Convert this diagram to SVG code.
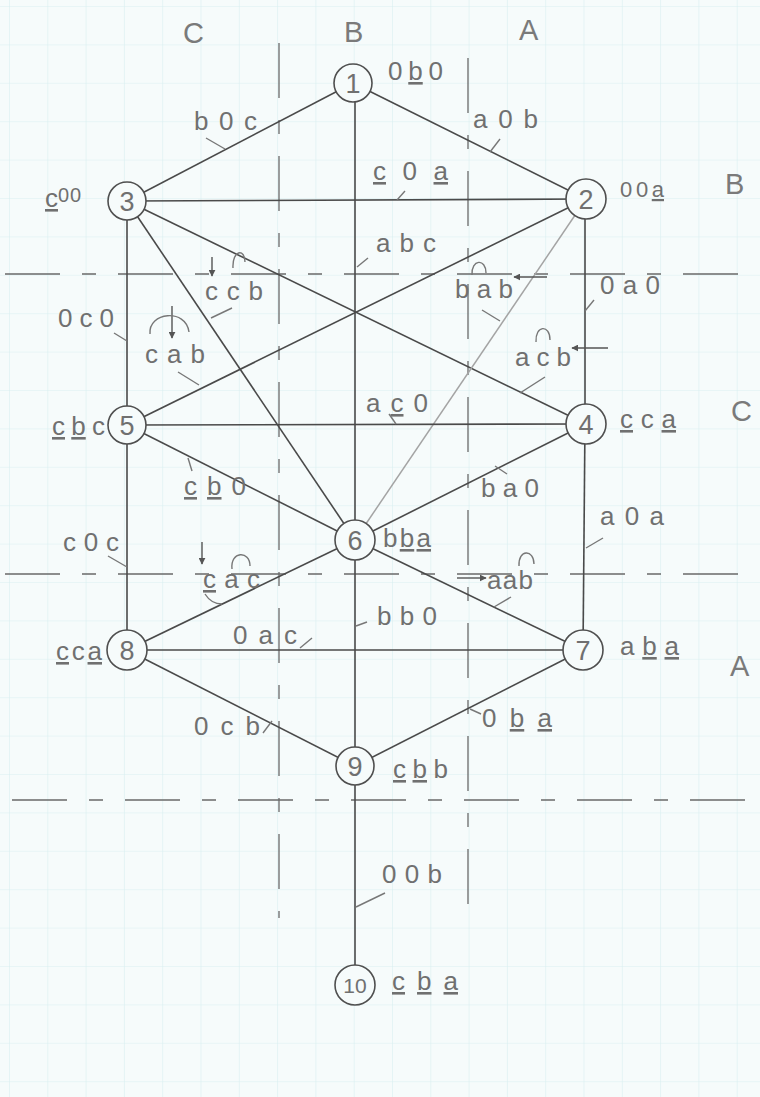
<svg xmlns="http://www.w3.org/2000/svg" width="760" height="1097" viewBox="0 0 760 1097">
<defs>
<pattern id="grid" patternUnits="userSpaceOnUse" x="9" y="6" width="38.3" height="38.4">
<path d="M0 0H38.3M0 0V38.4" fill="none" stroke="#d9eff1" stroke-width="1.2"/>
</pattern>
<marker id="ah" viewBox="0 0 10 10" refX="9" refY="5" markerWidth="5" markerHeight="5" orient="auto">
<path d="M0 0L10 5L0 10z" fill="#555"/>
</marker>
<style>
.e{stroke:#4a4a4a;stroke-width:1.6;fill:none}
.el{stroke:#a4a4a4;stroke-width:1.5;fill:none}
.ax{stroke:#6a6a6a;stroke-width:1.3;fill:none;stroke-dasharray:55 22 14 22}
.tk{stroke:#777;stroke-width:1.4;fill:none}
.dec{stroke:#777;stroke-width:1.4;fill:none}
.ar{stroke:#555;stroke-width:1.4;fill:none;marker-end:url(#ah)}
.nc{fill:#f6fbfb;stroke:#4f4f4f;stroke-width:1.6}
text{font-family:"Liberation Sans","DejaVu Sans",sans-serif;fill:#707070}
.n{font-size:27px;text-anchor:middle}
.l{font-size:26px}
.ax-l{font-size:29px;fill:#7a7a7a}
.u{text-decoration:underline}
</style>
</defs>
<rect width="760" height="1097" fill="#f6fbfb"/>
<rect width="760" height="1097" fill="url(#grid)"/>

<g id="axes">
<line class="ax" x1="279" y1="43" x2="279" y2="918"/>
<line class="ax" x1="468" y1="58" x2="468" y2="922"/>
<line class="ax" x1="5" y1="274" x2="755" y2="274"/>
<line class="ax" x1="5" y1="574" x2="755" y2="574"/>
<line class="ax" x1="12" y1="800" x2="755" y2="800"/>
<text class="ax-l" x="183" y="43">C</text>
<text class="ax-l" x="344" y="42">B</text>
<text class="ax-l" x="519" y="40">A</text>
<text class="ax-l" x="725" y="194">B</text>
<text class="ax-l" x="731" y="421">C</text>
<text class="ax-l" x="730" y="676">A</text>
</g>

<g id="connectors">
<line class="e" x1="353" y1="83" x2="127" y2="201"/>
<line class="e" x1="353" y1="83" x2="586" y2="199"/>
<line class="e" x1="355" y1="83" x2="355" y2="540"/>
<line class="e" x1="127" y1="201" x2="586" y2="199"/>
<line class="e" x1="127" y1="201" x2="127" y2="425"/>
<line class="e" x1="127" y1="425" x2="127" y2="650"/>
<line class="e" x1="585" y1="199" x2="585" y2="424"/>
<line class="e" x1="585" y1="424" x2="583" y2="650"/>
<line class="e" x1="127" y1="201" x2="586" y2="424"/>
<line class="e" x1="586" y1="199" x2="127" y2="425"/>
<line class="e" x1="127" y1="201" x2="355" y2="540"/>
<line class="el" x1="586" y1="199" x2="355" y2="540"/>
<line class="e" x1="127" y1="425" x2="586" y2="424"/>
<line class="e" x1="127" y1="425" x2="355" y2="540"/>
<line class="e" x1="586" y1="424" x2="355" y2="540"/>
<line class="e" x1="355" y1="540" x2="127" y2="650"/>
<line class="e" x1="355" y1="540" x2="583" y2="650"/>
<line class="e" x1="127" y1="650" x2="583" y2="650"/>
<line class="e" x1="355" y1="540" x2="355" y2="766"/>
<line class="e" x1="127" y1="650" x2="355" y2="766"/>
<line class="e" x1="583" y1="650" x2="355" y2="766"/>
<line class="e" x1="355" y1="766" x2="355" y2="985"/>
</g>

<g id="edge-labels">
<text class="l" x="194" y="130" textLength="63" lengthAdjust="spacing">b0c</text>
<path class="tk" d="M206 138L225 149"/>
<text class="l" x="473" y="128" textLength="65" lengthAdjust="spacing">a0b</text>
<path class="tk" d="M490 152L500 139"/>
<text class="l" x="373" y="180" textLength="75" lengthAdjust="spacing"><tspan class="u">c</tspan>0<tspan class="u">a</tspan></text>
<path class="tk" d="M397 200L405 191"/>
<text class="l" x="376" y="252" textLength="60" lengthAdjust="spacing">abc</text>
<path class="tk" d="M357 267L368 258"/>
<text class="l" x="205" y="300" textLength="58" lengthAdjust="spacing">ccb</text>
<path class="tk" d="M211 318L232 308"/>
<path class="ar" d="M212 257V276"/>
<path class="dec" d="M233 268C232 250 245 248 245 262"/>
<text class="l" x="455" y="298" textLength="58" lengthAdjust="spacing">bab</text>
<path class="tk" d="M482 310L500 321"/>
<path class="dec" d="M472 275C471 259 486 258 486 273"/>
<path class="ar" d="M547 277H514"/>
<text class="l" x="600" y="294" textLength="60" lengthAdjust="spacing">0a0</text>
<path class="tk" d="M585 311L594 300"/>
<text class="l" x="58" y="327" textLength="56" lengthAdjust="spacing">0c0</text>
<path class="tk" d="M114 333L127 341"/>
<text class="l" x="145" y="363" textLength="60" lengthAdjust="spacing">cab</text>
<path class="tk" d="M178 372L199 385"/>
<path class="ar" d="M172 306V338"/>
<path class="dec" d="M150 334C148 312 186 308 189 332"/>
<text class="l" x="515" y="366" textLength="56" lengthAdjust="spacing">acb</text>
<path class="tk" d="M520 393L545 377"/>
<path class="dec" d="M536 342C535 325 550 324 550 340"/>
<path class="ar" d="M608 348H572"/>
<text class="l" x="366" y="412" textLength="62" lengthAdjust="spacing">a<tspan class="u">c</tspan>0</text>
<path class="tk" d="M389 414L396 424"/>
<text class="l" x="184" y="495" textLength="62" lengthAdjust="spacing"><tspan class="u">c</tspan><tspan class="u">b</tspan>0</text>
<path class="tk" d="M188 458L192 471"/>
<text class="l" x="481" y="497" textLength="58" lengthAdjust="spacing">ba0</text>
<path class="tk" d="M495 466L507 474"/>
<text class="l" x="600" y="525" textLength="64" lengthAdjust="spacing">a0a</text>
<path class="tk" d="M586 548L603 538"/>
<text class="l" x="63" y="551" textLength="56" lengthAdjust="spacing">c0c</text>
<path class="tk" d="M108 556L127 567"/>
<text class="l" x="203" y="588" textLength="57" lengthAdjust="spacing"><tspan class="u">c</tspan>ac</text>
<path class="tk" d="M205 594C210 602 216 604 222 604"/>
<path class="ar" d="M202 542V564"/>
<path class="dec" d="M232 569C230 551 250 550 250 566"/>
<text class="l" x="487" y="589" textLength="46" lengthAdjust="spacing">aab</text>
<path class="tk" d="M494 607L511 597"/>
<path class="ar" d="M457 578H486"/>
<path class="dec" d="M519 566C518 549 534 549 534 564"/>
<text class="l" x="377" y="625" textLength="60" lengthAdjust="spacing">bb0</text>
<path class="tk" d="M356 626L367 622"/>
<text class="l" x="233" y="644" textLength="64" lengthAdjust="spacing">0ac</text>
<path class="tk" d="M300 648L312 638"/>
<text class="l" x="194" y="735" textLength="66" lengthAdjust="spacing">0cb</text>
<path class="tk" d="M263 733L272 721"/>
<text class="l" x="482" y="727" textLength="70" lengthAdjust="spacing">0<tspan class="u">ba</tspan></text>
<path class="tk" d="M470 709L481 714"/>
<text class="l" x="382" y="883" textLength="60" lengthAdjust="spacing">00b</text>
<path class="tk" d="M356 907L385 893"/>
</g>

<g id="n1"><circle class="nc" cx="353" cy="83" r="19"/><text class="n" x="353" y="93">1</text>
<text class="l" x="388" y="80" textLength="55" lengthAdjust="spacing">0<tspan class="u">b</tspan>0</text></g>
<g id="n2"><circle class="nc" cx="586" cy="199" r="20"/><text class="n" x="586" y="209">2</text>
<text class="l" x="620" y="197" textLength="44" lengthAdjust="spacing" style="font-size:22px">00<tspan class="u">a</tspan></text></g>
<g id="n3"><circle class="nc" cx="127" cy="201" r="19"/><text class="n" x="127" y="211">3</text>
<text class="l" x="45" y="207"><tspan class="u">c</tspan><tspan dy="-5" style="font-size:20px" letter-spacing="1">00</tspan></text></g>
<g id="n4"><circle class="nc" cx="586" cy="424" r="20"/><text class="n" x="586" y="434">4</text>
<text class="l" x="620" y="428" textLength="56" lengthAdjust="spacing"><tspan class="u">c</tspan>c<tspan class="u">a</tspan></text></g>
<g id="n5"><circle class="nc" cx="127" cy="425" r="19"/><text class="n" x="127" y="435">5</text>
<text class="l" x="52" y="435" textLength="53" lengthAdjust="spacing"><tspan class="u">c</tspan><tspan class="u">b</tspan>c</text></g>
<g id="n6"><circle class="nc" cx="355" cy="540" r="20"/><text class="n" x="355" y="550">6</text>
<text class="l" x="383" y="547" textLength="48" lengthAdjust="spacing">b<tspan class="u">ba</tspan></text></g>
<g id="n7"><circle class="nc" cx="583" cy="650" r="20"/><text class="n" x="583" y="660">7</text>
<text class="l" x="620" y="655" textLength="59" lengthAdjust="spacing">a<tspan class="u">ba</tspan></text></g>
<g id="n8"><circle class="nc" cx="127" cy="650" r="20"/><text class="n" x="127" y="660">8</text>
<text class="l" x="56" y="660" textLength="46" lengthAdjust="spacing"><tspan class="u">c</tspan>c<tspan class="u">a</tspan></text></g>
<g id="n9"><circle class="nc" cx="355" cy="766" r="19"/><text class="n" x="355" y="776">9</text>
<text class="l" x="393" y="778" textLength="55" lengthAdjust="spacing"><tspan class="u">cb</tspan>b</text></g>
<g id="n10"><circle class="nc" cx="355" cy="985" r="20"/><text class="n" x="355" y="993" style="font-size:21px">10</text>
<text class="l" x="392" y="990" textLength="66" lengthAdjust="spacing"><tspan class="u">c</tspan> <tspan class="u">b</tspan> <tspan class="u">a</tspan></text></g>
</svg>
